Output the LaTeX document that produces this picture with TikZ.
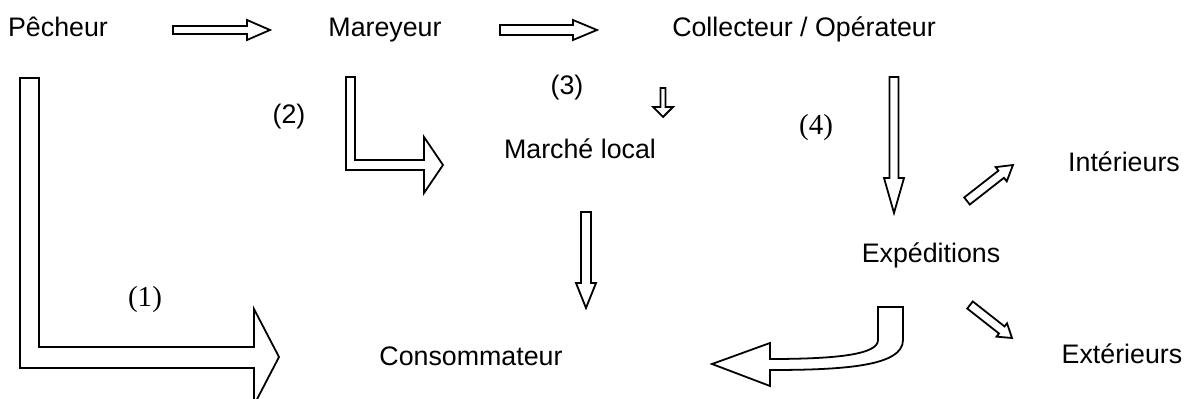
\documentclass[tikz,border=0pt]{standalone}
\usepackage{fontspec}
\setmainfont{Liberation Sans}
\newfontfamily\romain{Liberation Serif}
\usepackage{tikz}
\usetikzlibrary{calc}

\newcommand{\pxl}{0.4481pt}
% fleche creuse : depart, arrivee, demi-tige, demi-tete, longueur de tete
\newcommand{\fleche}[5]{%
  \coordinate (base) at ($(#2)!#5*\pxl!(#1)$);
  \draw[bloc] ($(#1)!#3*\pxl!90:(#2)$) -- ($(base)!#3*\pxl!-90:(#1)$) -- ($(base)!#4*\pxl!-90:(#1)$) -- (#2)
    -- ($(base)!#4*\pxl!90:(#1)$) -- ($(base)!#3*\pxl!90:(#1)$) -- ($(#1)!#3*\pxl!-90:(#2)$) -- cycle;}

\begin{document}
\begin{tikzpicture}[x=0.01575cm, y=-0.01575cm,
  every node/.style={inner sep=0pt, font=\fontsize{12}{14}\selectfont},
  acteur/.style={anchor=base},
  num/.style={font=\fontsize{12}{14}\selectfont},
  numr/.style={font=\fontsize{13}{15}\selectfont\romain},
  bloc/.style={draw=black, line width=0.8pt, fill=white, line join=miter}]
\useasboundingbox (0,0) rectangle (1187,399);

\node (pecheur)[acteur] at (58,37) {Pêcheur};
\node (mareyeur)[acteur] at (385,37) {Mareyeur};
\node (collecteur)[acteur] at (804,37) {Collecteur / Opérateur};
\node (marche)[acteur] at (580,159) {Marché local};
\node (conso)[acteur] at (471,366) {Consommateur};
\node (expe)[acteur] at (931,263) {Expéditions};
\node (inter)[acteur] at (1124,172) {Intérieurs};
\node (exter)[acteur] at (1122,363) {Extérieurs};

\node (n1)[numr] at (145,300) {(1)};
\node (n2)[num] at (289,117) {(2)};
\node (n3)[num] at (567,88) {(3)};
\node (n4)[numr] at (816,128) {(4)};

\coordinate (a1) at (173,30); \coordinate (b1) at (270,30);
\coordinate (a2) at (500,30); \coordinate (b2) at (597,30);
\coordinate (a3) at (663,88); \coordinate (b3) at (663,117);
\coordinate (a4) at (586,212); \coordinate (b4) at (586,308);
\coordinate (a5) at (894,77); \coordinate (b5) at (894,213);
\coordinate (a6) at (967,201); \coordinate (b6) at (1013,165);
\coordinate (a7) at (970,305); \coordinate (b7) at (1012,338);

\fleche{a1}{b1}{4}{10}{23}
\fleche{a2}{b2}{5}{10}{24}
\fleche{a3}{b3}{2.5}{10}{10}
\fleche{a4}{b4}{5}{10}{25}
\fleche{a5}{b5}{4.5}{10}{35}
\fleche{a6}{b6}{4.5}{9}{15}
\fleche{a7}{b7}{4.5}{8.5}{13}

% fleches coudees
\draw[bloc] (20,78) -- (39,78) -- (39,347) -- (254,347) -- (254,309) -- (279,357)
  -- (254,405) -- (254,368) -- (20,368) -- cycle;
\draw[bloc] (346,77) -- (355,77) -- (355,160) -- (424,160) -- (424,137) -- (443,165)
  -- (424,193) -- (424,170) -- (346,170) -- cycle;
\draw[bloc] (878,307) -- (903,307) -- (903,340) .. controls (903,366) and (845,370) .. (770,370)
  -- (770,386) -- (712,364) -- (770,343) -- (770,359) .. controls (840,359) and (878,354) .. (878,340) -- cycle;
\end{tikzpicture}
\end{document}
